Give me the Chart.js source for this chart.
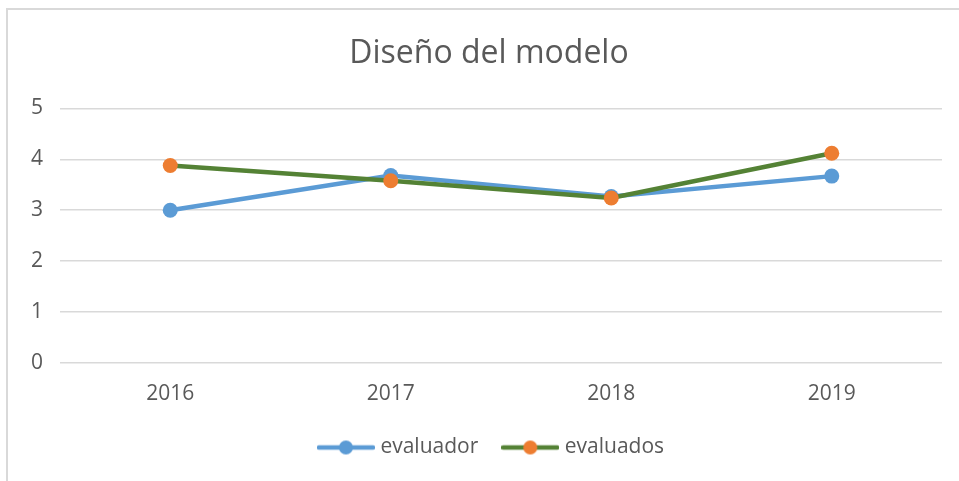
<!DOCTYPE html>
<html>
<head>
<meta charset="utf-8">
<script src="https://cdn.jsdelivr.net/npm/chart.js@4.4.0/dist/chart.umd.min.js"></script>
<style>
  body { margin: 0; background: #fff; }
  #wrap { position: relative; width: 959px; height: 481px; }
  #frame { position: absolute; left: 6px; top: 8px; right: 0; bottom: 0;
           border-top: 2px solid #d9d9d9; border-left: 2px solid #d9d9d9; pointer-events: none; }
</style>
</head>
<body>
<div id="wrap">
  <canvas id="chart" width="959" height="481"></canvas>
  <div id="frame"></div>
</div>
<script>
// data
const years = ['2016', '2017', '2018', '2019'];
const evaluador = [3.0, 3.68, 3.27, 3.67];
const evaluados = [3.88, 3.58, 3.24, 4.12];
const yTicks = [0, 1, 2, 3, 4, 5];

const blue = '#5B9BD5';
const green = '#548235';
const orange = '#ED7D31';
const textColor = '#595959';

// legend marker: short line with a dot in the middle
function legendMark(lineColor, dotColor) {
    const c = document.createElement('canvas');
    c.width = 58;
    c.height = 16;
    const ctx = c.getContext('2d');
    ctx.strokeStyle = lineColor;
    ctx.lineWidth = 4.5;
    ctx.lineCap = 'round';
    ctx.beginPath();
    ctx.moveTo(2, 8);
    ctx.lineTo(56, 8);
    ctx.stroke();
    ctx.fillStyle = dotColor;
    ctx.beginPath();
    ctx.arc(29, 8, 7, 0, Math.PI * 2);
    ctx.fill();
    return c;
}
const marks = [legendMark(blue, blue), legendMark(green, orange)];

// title and legend sit centred on the whole frame, not the plot
const shiftBoxes = {
    id: 'shiftBoxes',
    afterLayout(chart) {
        chart.titleBlock.left = 36;
        chart.legend.left = 44;
    }
};

new Chart(document.getElementById('chart'), {
    type: 'line',
    data: {
        labels: years,
        datasets: [{
            label: 'evaluador',
            data: evaluador,
            borderColor: blue,
            backgroundColor: blue,
            borderWidth: 4.5,
            pointRadius: 7.5,
            pointHoverRadius: 7.5,
            pointBorderWidth: 0,
            tension: 0,
            order: 2
        }, {
            label: 'evaluados',
            data: evaluados,
            borderColor: green,
            backgroundColor: orange,
            pointBackgroundColor: orange,
            borderWidth: 4.5,
            pointRadius: 7.5,
            pointHoverRadius: 7.5,
            pointBorderWidth: 0,
            tension: 0,
            order: 1
        }]
    },
    plugins: [shiftBoxes],
    options: {
        responsive: false,
        animation: false,
        layout: { padding: { top: 10, right: 17, bottom: 13, left: 0 } },
        plugins: {
            title: {
                display: true,
                text: 'Diseño del modelo',
                color: textColor,
                font: { family: 'Open Sans', size: 32, weight: 'normal' },
                padding: { top: 25, bottom: 35 }
            },
            legend: {
                position: 'bottom',
                labels: {
                    color: textColor,
                    font: { family: 'Open Sans', size: 21 },
                    usePointStyle: true,
                    pointStyleWidth: 48,
                    boxHeight: 16,
                    padding: 28,
                    generateLabels: (chart) => chart.data.datasets.map((ds, i) => ({
                        text: ds.label,
                        pointStyle: marks[i],
                        fontColor: textColor,
                        lineWidth: 0,
                        hidden: false,
                        datasetIndex: i
                    }))
                }
            },
            tooltip: { enabled: false }
        },
        scales: {
            x: {
                offset: true,
                grid: { display: false, drawTicks: false },
                border: { display: false },
                ticks: { color: textColor, font: { family: 'Open Sans', size: 21 }, padding: 18 },
                afterFit: (scale) => { scale.height = 46; }
            },
            y: {
                min: 0,
                max: 5,
                afterBuildTicks: (scale) => { scale.ticks = yTicks.map(v => ({ value: v })); },
                grid: { color: '#d9d9d9', lineWidth: 1.5, drawTicks: false },
                border: { display: false },
                ticks: { color: textColor, font: { family: 'Open Sans', size: 21 }, padding: 17 },
                afterFit: (scale) => { scale.width = 60; }
            }
        }
    }
});
</script>
</body>
</html>
